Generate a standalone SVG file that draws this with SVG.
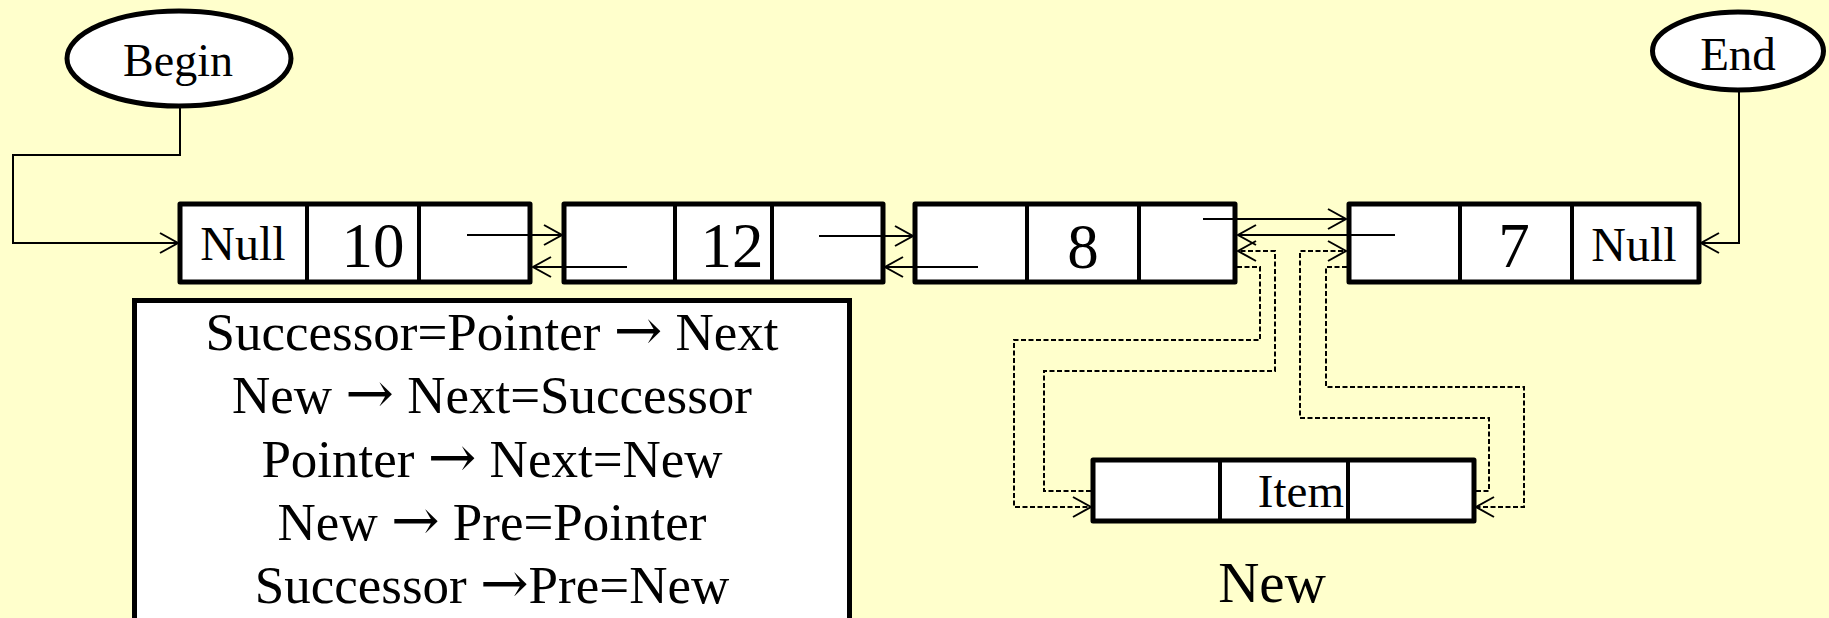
<svg xmlns="http://www.w3.org/2000/svg" width="1829" height="618" viewBox="0 0 1829 618">
<defs>
<style>
.t{font-family:"Liberation Serif","Times New Roman",serif;fill:#000;text-anchor:middle}
.ar{font-family:"DejaVu Serif","Liberation Serif",serif;font-size:58px}
.box{fill:#fff;stroke:#000;stroke-width:5;stroke-linejoin:round}
.div{stroke:#000;stroke-width:4}
.ell{fill:#fff;stroke:#000;stroke-width:5}
.ln{fill:none;stroke:#000;stroke-width:2}
.dash{fill:none;stroke:#000;stroke-width:2;stroke-dasharray:5 2.5}
</style>
<marker id="ah" markerUnits="userSpaceOnUse" markerWidth="22" markerHeight="24" refX="19" refY="11" orient="auto">
<path d="M1,1 L19,11 L1,21" fill="none" stroke="#000" stroke-width="2"/>
</marker>
</defs>
<rect x="0" y="0" width="1829" height="618" fill="#FFFFCC"/>

<g id="begin">
<ellipse class="ell" cx="179" cy="58.5" rx="112" ry="47.5"/>
<text class="t" x="178" y="76" font-size="46">Begin</text>
</g>
<g id="end">
<ellipse class="ell" cx="1738" cy="51" rx="85.5" ry="39"/>
<text class="t" x="1738" y="70" font-size="47">End</text>
</g>

<g id="node1">
<rect class="box" x="180" y="204" width="350" height="78"/>
<line class="div" x1="307" y1="204" x2="307" y2="282"/>
<line class="div" x1="419" y1="204" x2="419" y2="282"/>
<text class="t" x="243" y="260" font-size="48">Null</text>
<text class="t" x="373" y="267" font-size="63">10</text>
</g>
<g id="node2">
<rect class="box" x="564" y="204" width="319" height="78"/>
<line class="div" x1="675" y1="204" x2="675" y2="282"/>
<line class="div" x1="772" y1="204" x2="772" y2="282"/>
<text class="t" x="732" y="267" font-size="63">12</text>
</g>
<g id="node3">
<rect class="box" x="915" y="204" width="320" height="78"/>
<line class="div" x1="1027" y1="204" x2="1027" y2="282"/>
<line class="div" x1="1139" y1="204" x2="1139" y2="282"/>
<text class="t" x="1083" y="268" font-size="63">8</text>
</g>
<g id="node4">
<rect class="box" x="1349" y="204" width="350" height="78"/>
<line class="div" x1="1460" y1="204" x2="1460" y2="282"/>
<line class="div" x1="1572" y1="204" x2="1572" y2="282"/>
<text class="t" x="1514" y="267" font-size="63">7</text>
<text class="t" x="1634" y="261" font-size="48">Null</text>
</g>
<g id="newnode">
<rect class="box" x="1093" y="460" width="381" height="61"/>
<line class="div" x1="1220" y1="460" x2="1220" y2="521"/>
<line class="div" x1="1348" y1="460" x2="1348" y2="521"/>
<text class="t" x="1344" y="507" font-size="47" style="text-anchor:end">Item</text>
</g>
<g id="newlabel">
<text class="t" x="1272" y="602" font-size="57">New</text>
</g>

<g id="code">
<rect x="134.5" y="300.5" width="715" height="330" fill="#fff" stroke="#000" stroke-width="5"/>
<text class="t" x="492" y="350" font-size="53">Successor=Pointer <tspan class="ar">→</tspan> Next</text>
<text class="t" x="492" y="413" font-size="53">New <tspan class="ar">→</tspan> Next=Successor</text>
<text class="t" x="492" y="477" font-size="53">Pointer <tspan class="ar">→</tspan> Next=New</text>
<text class="t" x="492" y="540" font-size="53">New <tspan class="ar">→</tspan> Pre=Pointer</text>
<text class="t" x="492" y="603" font-size="53">Successor <tspan class="ar">→</tspan>Pre=New</text>
</g>

<g id="connectors">
<path class="ln" d="M180,108 V155 H13 V243 H178" marker-end="url(#ah)"/>
<path class="ln" d="M1739,92 V243 H1701" marker-end="url(#ah)"/>
<path class="ln" d="M467,235 H562" marker-end="url(#ah)"/>
<path class="ln" d="M627,267 H533" marker-end="url(#ah)"/>
<path class="ln" d="M819,236 H913" marker-end="url(#ah)"/>
<path class="ln" d="M978,267 H885" marker-end="url(#ah)"/>
<path class="ln" d="M1203,219 H1346" marker-end="url(#ah)"/>
<path class="ln" d="M1395,235 H1238" marker-end="url(#ah)"/>
<path class="dash" d="M1237,267 H1260 V340 H1014 V507 H1091" marker-end="url(#ah)"/>
<path class="dash" d="M1091,491 H1044 V371 H1275 V251 H1238" marker-end="url(#ah)"/>
<path class="dash" d="M1476,491 H1489 V418 H1300 V251 H1346" marker-end="url(#ah)"/>
<path class="dash" d="M1347,267 H1326 V387 H1524 V507 H1476" marker-end="url(#ah)"/>
</g>
</svg>
